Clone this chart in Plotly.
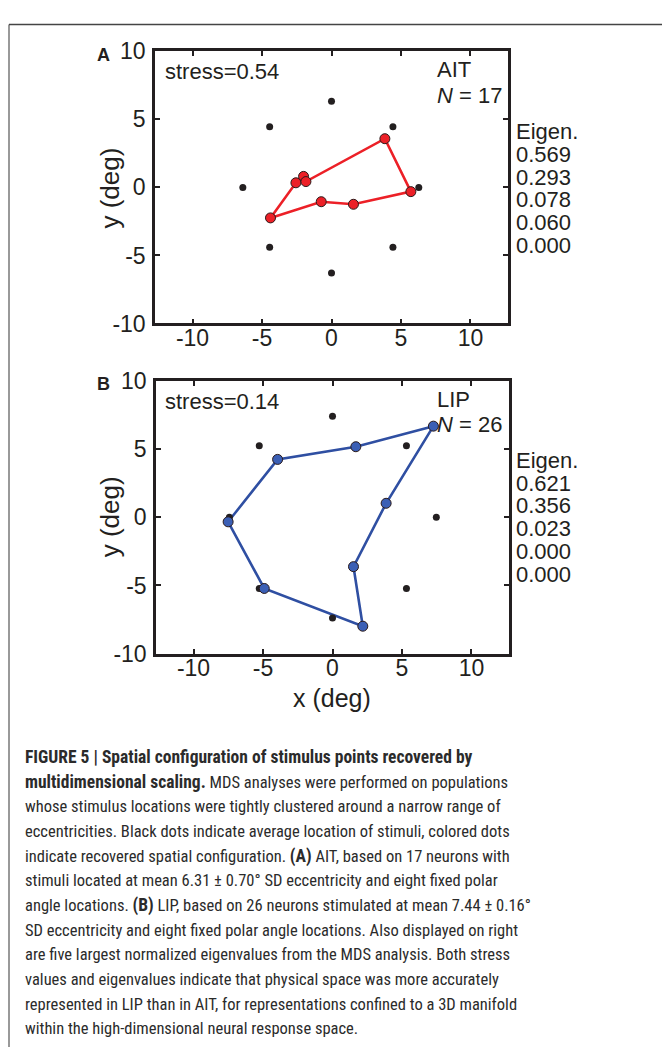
import plotly.graph_objects as go

W, H = 662, 1060

# Stimulus locations (average, deg) - same polar layout in both panels
ait_stim_x = [0.0, 4.42, 6.28, 4.42, 0.0, -4.45, -6.38, -4.45]
ait_stim_y = [6.33, 4.46, 0.0, -4.40, -6.29, -4.40, 0.0, 4.46]
lip_stim_x = [0.0, 5.32, 7.47, 5.32, 0.0, -5.27, -7.42, -5.27]
lip_stim_y = [7.42, 5.25, 0.0, -5.22, -7.39, -5.22, 0.0, 5.25]

# MDS-recovered configurations (closed polygons, in order)
ait_mds_x = [-4.39, -2.56, -2.01, -1.84, 3.84, 5.71, 1.58, -0.74]
ait_mds_y = [-2.24, 0.34, 0.81, 0.43, 3.58, -0.31, -1.24, -1.05]
lip_mds_x = [7.26, 1.68, -3.95, -7.51, -4.91, 2.18, 1.51, 3.86]
lip_mds_y = [6.69, 5.18, 4.25, -0.33, -5.22, -7.99, -3.62, 1.03]

ait_eigen = ["0.569", "0.293", "0.078", "0.060", "0.000"]
lip_eigen = ["0.621", "0.356", "0.023", "0.000", "0.000"]

tick_vals = [-10, -5, 0, 5, 10]
tick_text = ["-10", "-5", "0", "5", "10"]

B0, B1 = "<b><span style='font-size:17.5px'>", "</span></b>"
caption_lines = [
    B0 + "FIGURE 5 | Spatial configuration of stimulus points recovered by" + B1,
    B0 + "multidimensional scaling." + B1 + " MDS analyses were performed on populations",
    "whose stimulus locations were tightly clustered around a narrow range of",
    "eccentricities. Black dots indicate average location of stimuli, colored dots",
    "indicate recovered spatial configuration. " + B0 + "(A)" + B1 + " AIT, based on 17 neurons with",
    "stimuli located at mean 6.31 ± 0.70° SD eccentricity and eight fixed polar",
    "angle locations. " + B0 + "(B)" + B1 + " LIP, based on 26 neurons stimulated at mean 7.44 ± 0.16°",
    "SD eccentricity and eight fixed polar angle locations. Also displayed on right",
    "are five largest normalized eigenvalues from the MDS analysis. Both stress",
    "values and eigenvalues indicate that physical space was more accurately",
    "represented in LIP than in AIT, for representations confined to a 3D manifold",
    "within the high-dimensional neural response space.",
]

INK = "#231f20"
RED = "#ec2027"
BLUE = "#2f4fa2"
BLUE_FILL = "#3b5fb5"
FONT = "Liberation Sans, Arial, sans-serif"
NARROW = "Roboto Condensed"


def px(x):
    return x / W


def py(y):
    return 1 - y / H


fig = go.Figure()

panels = [
    dict(ax="", stim=(ait_stim_x, ait_stim_y), mds=(ait_mds_x, ait_mds_y),
         color=RED, fill=RED, box=(155, 508, 39.3, 318.3)),
    dict(ax="2", stim=(lip_stim_x, lip_stim_y), mds=(lip_mds_x, lip_mds_y),
         color=BLUE, fill=BLUE_FILL, box=(156, 509, 377.3, 656.7)),
]

layout_axes = {}
for p in panels:
    sx, sy = p["stim"]
    mx, my = p["mds"]
    xa = "x" + p["ax"]
    ya = "y" + p["ax"]
    fig.add_trace(go.Scatter(
        x=mx + mx[:1], y=my + my[:1], mode="lines",
        line=dict(color=p["color"], width=2.6),
        xaxis=xa, yaxis=ya, showlegend=False, hoverinfo="skip"))
    fig.add_trace(go.Scatter(
        x=sx, y=sy, mode="markers",
        marker=dict(color=INK, size=7),
        xaxis=xa, yaxis=ya, showlegend=False))
    fig.add_trace(go.Scatter(
        x=mx, y=my, mode="markers",
        marker=dict(color=p["fill"], size=10, line=dict(color="#2a1a1a", width=1)),
        xaxis=xa, yaxis=ya, showlegend=False))

    l, r, t, b = p["box"]
    common = dict(
        showline=True, linecolor=INK, linewidth=2.5, mirror="ticks",
        ticks="inside", ticklen=5, tickwidth=2, tickcolor=INK,
        tickvals=tick_vals, ticktext=tick_text,
        showgrid=False, zeroline=False,
        tickfont=dict(family=FONT, size=23, color=INK),
    )
    layout_axes["xaxis" + p["ax"]] = dict(
        common, domain=[px(l), px(r)], range=[-12.7, 12.7],
        anchor=ya, ticklabelstandoff=-8)
    layout_axes["yaxis" + p["ax"]] = dict(
        common, domain=[py(b), py(t)], range=[-10, 10],
        anchor=xa, ticklabelstandoff=2)

fig.update_layout(**layout_axes)

ann = []


def text(x, y, s, size=22, xanchor="left", yanchor="middle", family=FONT,
         color=INK, angle=0):
    ann.append(dict(x=px(x), y=py(y), xref="paper", yref="paper", text=s,
                    showarrow=False, xanchor=xanchor, yanchor=yanchor,
                    textangle=angle, align="left", borderpad=0,
                    font=dict(family=family, size=size, color=color)))


def stacked(x, y_first, lines, spacing, glyph_size):
    # one annotation; line pitch follows the base font size (1.3 em per line)
    base = spacing / 1.3
    body = "<br>".join(
        "<span style='font-size:%gpx'>%s</span>" % (glyph_size, s) for s in lines)
    y_mid = y_first + spacing * (len(lines) - 1) / 2.0
    text(x, y_mid, body, size=base)


# Panel A texts
text(96, 43, "<b>A</b>", size=18)
text(164, 60, "stress=0.54")
stacked(436, 58, ["AIT", "<i>N</i> = 17"], 26, 22)
text(110, 180, "y (deg)", size=26, xanchor="center", angle=-90)
stacked(515, 123, ["Eigen."] + ait_eigen, 22.8, 22)

# Panel B texts
text(96, 380, "<b>B</b>", size=18)
text(164, 398, "stress=0.14")
stacked(436, 397, ["LIP", "<i>N</i> = 26"], 25, 22)
text(110, 517, "y (deg)", size=26, xanchor="center", angle=-90)
stacked(515, 460, ["Eigen."] + lip_eigen, 22.7, 22)

text(332, 702, "x (deg)", size=25, xanchor="center")

# Caption
for i, line in enumerate(caption_lines):
    text(24, 763 + 25.3 * i, line, size=16.5, family=NARROW, color="#2b2b2b")

fig.update_layout(annotations=ann)

# Figure frame (left and top edges)
fig.add_shape(type="line", xref="paper", yref="paper",
              x0=px(9), x1=px(9), y0=0, y1=py(11.7),
              line=dict(color="#555555", width=1.2))
fig.add_shape(type="line", xref="paper", yref="paper",
              x0=px(9), x1=1, y0=py(11.7), y1=py(11.7),
              line=dict(color="#444444", width=1.5))

fig.update_layout(
    width=W, height=H, autosize=False,
    margin=dict(l=0, r=0, t=0, b=0),
    paper_bgcolor="white", plot_bgcolor="white",
)

fig.write_html("out.html")
